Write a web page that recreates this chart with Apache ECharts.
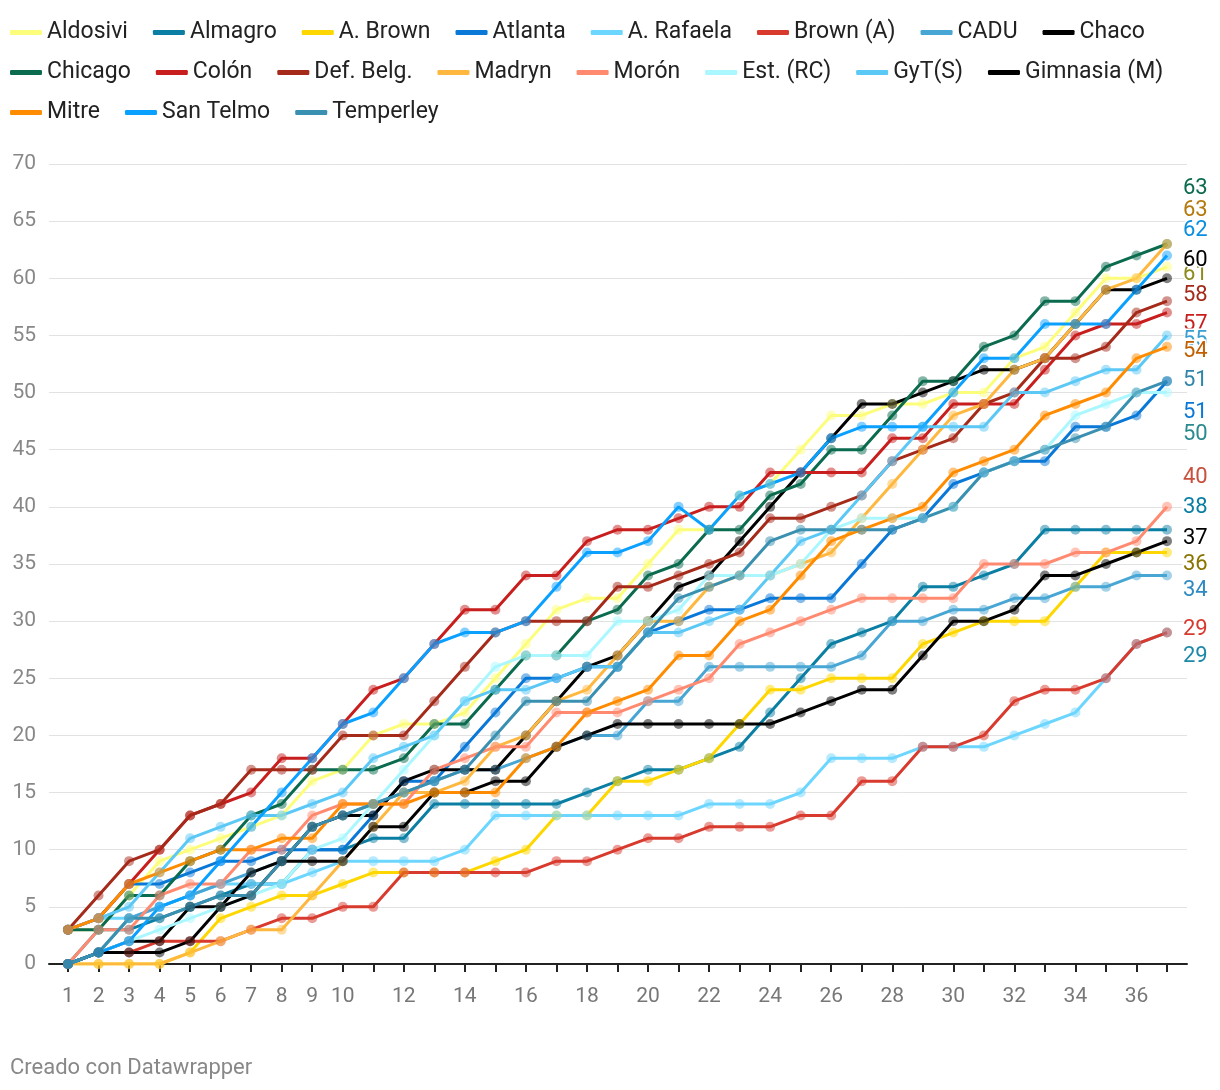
<!DOCTYPE html>
<html><head><meta charset="utf-8">
<script src="https://cdn.jsdelivr.net/npm/echarts@6/dist/echarts.min.js"></script>
<style>html,body{margin:0;padding:0;background:#fff}#c{width:1220px;height:1090px}</style>
</head><body><div id="c"></div>
<script>
const rounds = ['1','2','3','4','5','6','7','8','9','10','11','12','13','14','15','16','17','18','19','20','21','22','23','24','25','26','27','28','29','30','31','32','33','34','35','36','37'];

const aldosivi  = [3,3,6,9,10,11,12,13,16,17,20,21,21,22,25,28,31,32,32,35,38,38,41,42,45,48,48,49,49,50,50,53,54,57,60,60,61];
const almagro   = [0,3,3,4,5,6,7,7,10,10,11,11,14,14,14,14,14,15,16,17,17,18,19,22,25,28,29,30,33,33,34,35,38,38,38,38,38];
const aBrown    = [0,0,0,0,1,4,5,6,6,7,8,8,8,8,9,10,13,13,16,16,17,18,21,24,24,25,25,25,28,29,30,30,30,33,36,36,36];
const atlanta   = [3,4,7,7,8,9,9,10,10,10,13,16,16,19,22,25,25,26,26,29,30,31,31,32,32,32,35,38,39,42,43,44,44,47,47,48,51];
const aRafaela  = [3,4,4,5,6,7,7,7,8,9,9,9,9,10,13,13,13,13,13,13,13,14,14,14,15,18,18,18,19,19,19,20,21,22,25,28,29];
const brownA    = [0,1,1,2,2,2,3,4,4,5,5,8,8,8,8,8,9,9,10,11,11,12,12,12,13,13,16,16,19,19,20,23,24,24,25,28,29];
const cadu      = [0,1,4,5,6,7,8,9,12,13,14,15,16,17,17,18,19,20,20,23,23,26,26,26,26,26,27,30,30,31,31,32,32,33,33,34,34];
const chaco     = [0,1,2,2,5,5,8,9,12,13,13,16,17,17,17,20,23,26,27,30,33,34,37,40,43,46,49,49,50,51,52,52,53,56,59,59,60];
const chicago   = [3,3,6,6,9,10,13,14,17,17,17,18,21,21,24,27,27,30,31,34,35,38,38,41,42,45,45,48,51,51,54,55,58,58,61,62,63];
const colon     = [3,4,7,10,13,14,15,18,18,21,24,25,28,31,31,34,34,37,38,38,39,40,40,43,43,43,43,46,46,49,49,49,52,55,56,56,57];
const defBelg   = [3,6,9,10,13,14,17,17,17,20,20,20,23,26,29,30,30,30,33,33,34,35,36,39,39,40,41,44,45,46,49,50,53,53,54,57,58];
const madryn    = [0,0,0,0,1,2,3,3,6,9,12,15,15,16,19,20,23,24,27,30,30,33,34,34,35,36,39,42,45,48,49,52,53,56,59,60,63];
const moron     = [0,3,3,6,7,7,10,10,13,14,14,14,17,18,19,19,22,22,22,23,24,25,28,29,30,31,32,32,32,32,35,35,35,36,36,37,40];
const estRC     = [0,1,2,3,4,5,6,7,10,11,14,17,20,23,26,27,27,27,30,30,31,34,34,34,35,38,39,39,39,40,43,44,45,48,49,50,50];
const gyts      = [3,4,5,8,11,12,13,13,14,15,18,19,20,23,24,24,25,26,26,29,29,30,31,34,37,38,41,44,47,47,47,50,50,51,52,52,55];
const gimnasia  = [0,1,1,1,2,5,6,9,9,9,12,12,15,15,16,16,19,20,21,21,21,21,21,21,22,23,24,24,27,30,30,31,34,34,35,36,37];
const mitre     = [3,4,7,8,9,10,10,11,11,14,14,14,15,15,15,18,19,22,23,24,27,27,30,31,34,37,38,39,40,43,44,45,48,49,50,53,54];
const sanTelmo  = [0,1,2,5,6,9,12,15,18,21,22,25,28,29,29,30,33,36,36,37,40,38,41,42,43,46,47,47,47,50,53,53,56,56,56,59,62];
const temperley = [0,1,4,4,5,6,6,9,12,13,14,15,16,17,20,23,23,23,26,29,32,33,34,37,38,38,38,38,39,40,43,44,45,46,47,50,51];

const teams = [
  {name:'Aldosivi', data:aldosivi, color:'#fdfd7c', lc:'#8d8b1e', dy:8},
  {name:'Almagro', data:almagro, color:'#0b7fa3', lc:'#0b7fa3', dy:-22},
  {name:'A. Brown', data:aBrown, color:'#ffd700', lc:'#8a7400', dy:12},
  {name:'Atlanta', data:atlanta, color:'#0a78d7', lc:'#0a78d7', dy:31},
  {name:'A. Rafaela', data:aRafaela, color:'#6dd6ff', lc:'#1e88a8', dy:24},
  {name:'Brown (A)', data:brownA, color:'#d83a2e', lc:'#d83a2e', dy:-3},
  {name:'CADU', data:cadu, color:'#48a6d4', lc:'#2e8ac0', dy:15},
  {name:'Chaco', data:chaco, color:'#000000', lc:'#000000', dy:-18},
  {name:'Chicago', data:chicago, color:'#0b6b4f', lc:'#0b6b4f', dy:-56},
  {name:'Colón', data:colon, color:'#c81e1e', lc:'#c81e1e', dy:12},
  {name:'Def. Belg.', data:defBelg, color:'#a52a1a', lc:'#a52a1a', dy:-6},
  {name:'Madryn', data:madryn, color:'#ffb83f', lc:'#b5790d', dy:-34},
  {name:'Morón', data:moron, color:'#ff8a70', lc:'#c8503d', dy:-29},
  {name:'Est. (RC)', data:estRC, color:'#aaf7ff', lc:'#2a8a8f', dy:42},
  {name:'GyT(S)', data:gyts, color:'#5bc8f5', lc:'#3a9fd0', dy:5},
  {name:'Gimnasia (M)', data:gimnasia, color:'#000000', lc:'#000000', dy:-3},
  {name:'Mitre', data:mitre, color:'#ff8c00', lc:'#c06000', dy:5},
  {name:'San Telmo', data:sanTelmo, color:'#0aa0ff', lc:'#0a8ee0', dy:-25},
  {name:'Temperley', data:temperley, color:'#3a90b0', lc:'#2f86a8', dy:-1}
];

const FONT = 'Roboto, "Noto Sans", sans-serif';
const legendRows = [
  ['Aldosivi','Almagro','A. Brown','Atlanta','A. Rafaela','Brown (A)','CADU','Chaco'],
  ['Chicago','Colón','Def. Belg.','Madryn','Morón','Est. (RC)','GyT(S)','Gimnasia (M)'],
  ['Mitre','San Telmo','Temperley']
];

const chart = echarts.init(document.getElementById('c'), null, {renderer:'canvas'});

const series = teams.map(t => ({
  name: t.name,
  type: 'line',
  xAxisIndex: 1,
  yAxisIndex: 1,
  data: t.data.map((v, i) => i === t.data.length - 1 ? {
    value: v,
    label: {
      show: true, position: 'right', distance: 11, offset: [0, t.dy],
      formatter: String(v), color: t.lc, fontSize: 22, fontFamily: FONT,
      textBorderColor: '#fff', textBorderWidth: 3, opacity: 1
    }
  } : v),
  symbol: 'circle',
  symbolSize: 10,
  showSymbol: true,
  lineStyle: {color: t.color, width: 3},
  itemStyle: {color: t.color, opacity: 0.5},
  emphasis: {disabled: true},
  animation: false
}));

chart.setOption({
  animation: false,
  backgroundColor: '#fff',
  textStyle: {fontFamily: FONT},
  title: {
    text: 'Creado con Datawrapper', left: 10, top: 1057, padding: 0,
    textStyle: {fontSize: 22, fontWeight: 'normal', color: '#888', fontFamily: FONT}
  },
  legend: legendRows.map((row, k) => ({
    data: row, left: 10, top: 21 + 40 * k, padding: 0,
    itemWidth: 32, itemHeight: 5, itemGap: 25, icon: 'roundRect',
    selectedMode: false,
    itemStyle: {opacity: 1},
    lineStyle: {opacity: 1},
    textStyle: {fontSize: 23, color: '#222', fontFamily: FONT}
  })),
  grid: [
    {left: 49, right: 33, top: 164, height: 800},
    {left: 68, right: 53, top: 164, height: 800}
  ],
  xAxis: [
    {type: 'value', gridIndex: 0, min: 0, max: 1, axisLine: {show: true, lineStyle: {color: '#222', width: 2}},
     axisTick: {show: false}, axisLabel: {show: false}, splitLine: {show: false}},
    {type: 'category', gridIndex: 1, data: rounds, boundaryGap: false,
     axisLine: {show: false},
     axisTick: {show: true, interval: 0, length: 8, lineStyle: {color: '#222', width: 2}},
     axisLabel: {interval: (i) => i < 10 || i % 2 === 1, margin: 22, fontSize: 21, color: '#777', fontFamily: FONT},
     splitLine: {show: false}}
  ],
  yAxis: [
    {type: 'value', gridIndex: 0, min: 0, max: 70, interval: 5,
     axisLine: {show: false}, axisTick: {show: false},
     axisLabel: {fontSize: 21, color: '#888', margin: 13, fontFamily: FONT},
     splitLine: {show: true, lineStyle: {color: '#e2e2e2', width: 1}}},
    {type: 'value', gridIndex: 1, min: 0, max: 70, interval: 5, show: false, splitLine: {show: false}}
  ],
  series: series
});
</script>
</body></html>
